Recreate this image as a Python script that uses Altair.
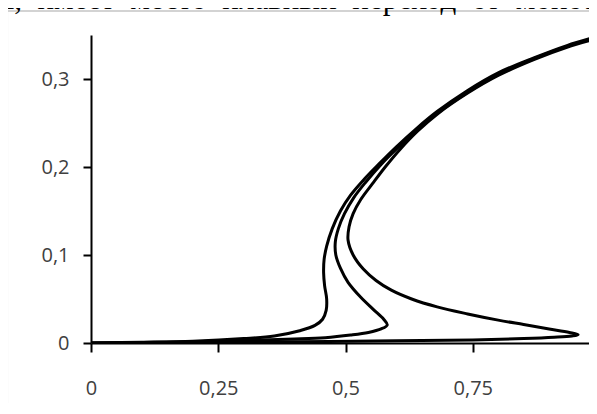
import altair as alt
import pandas as pd

# ---- data ----
c1_x = [0.0, 0.1, 0.2, 0.3, 0.36, 0.41, 0.44, 0.455, 0.462, 0.463, 0.459, 0.457, 0.458, 0.463,
        0.474, 0.49, 0.51, 0.535, 0.565, 0.6, 0.64, 0.68, 0.74, 0.8, 0.87, 0.935, 1.0]
c1_y = [0.0, 0.0008, 0.002, 0.005, 0.008, 0.014, 0.02, 0.027, 0.037, 0.05, 0.065, 0.08, 0.095, 0.11,
        0.13, 0.15, 0.168, 0.185, 0.203, 0.223, 0.244, 0.263, 0.287, 0.307, 0.324, 0.338, 0.349]

c2_x = [0.0, 0.1, 0.2, 0.3, 0.4, 0.46, 0.51, 0.545, 0.57, 0.582, 0.575, 0.555, 0.53, 0.505, 0.49,
        0.481, 0.48, 0.486, 0.498, 0.516, 0.54, 0.57, 0.603, 0.64, 0.68, 0.74, 0.8, 0.87, 0.935, 1.0]
c2_y = [0.0, 0.0005, 0.0015, 0.003, 0.0045, 0.006, 0.009, 0.012, 0.016, 0.0205, 0.027, 0.038, 0.052,
        0.069, 0.085, 0.1, 0.115, 0.13, 0.147, 0.165, 0.183, 0.203, 0.222, 0.242, 0.261, 0.285, 0.305,
        0.323, 0.337, 0.348]

c3_x = [0.0, 0.2, 0.4, 0.6, 0.75, 0.85, 0.91, 0.945, 0.957, 0.94, 0.9, 0.85, 0.8, 0.74, 0.68, 0.63,
        0.59, 0.56, 0.535, 0.515, 0.505, 0.507, 0.515, 0.53, 0.553, 0.578, 0.607, 0.642, 0.68, 0.74,
        0.8, 0.87, 0.935, 1.0]
c3_y = [0.0, 0.0008, 0.0015, 0.0025, 0.0035, 0.005, 0.0065, 0.008, 0.0095, 0.012, 0.016, 0.021, 0.026,
        0.033, 0.041, 0.05, 0.06, 0.071, 0.084, 0.1, 0.117, 0.132, 0.147, 0.163, 0.181, 0.2, 0.22,
        0.241, 0.26, 0.284, 0.304, 0.322, 0.336, 0.347]

x_ticks = [0, 0.25, 0.5, 0.75, 1]
y_ticks = [0, 0.1, 0.2, 0.3]
header_words = ["я,", "имеет", "место", "плавный", "переход", "от", "моното"]

rows = []
for name, xs, ys in (("c1", c1_x, c1_y), ("c2", c2_x, c2_y), ("c3", c3_x, c3_y)):
    for i, (xv, yv) in enumerate(zip(xs, ys)):
        rows.append({"curve": name, "x": xv, "y": yv, "i": i})
df = pd.DataFrame(rows)

W, H = 509, 308
PL, PT = 83, 27

lab_expr = "replace(toString(datum.value), '.', ',')"

lines = alt.Chart(df).mark_line(
    color="black", strokeWidth=3, interpolate="catmull-rom", clip=True
).encode(
    x=alt.X("x:Q", scale=alt.Scale(domain=[0, 1], nice=False, zero=False),
            axis=alt.Axis(values=x_ticks, title=None, grid=False, domainColor="black",
                          domainWidth=2, tickColor="black", tickWidth=2, tickSize=9,
                          labelFont="Open Sans", labelFontSize=20, labelColor="#404040",
                          labelPadding=26, labelExpr=lab_expr, labelFlush=False,
                          labelOverlap=False)),
    y=alt.Y("y:Q", scale=alt.Scale(domain=[0, 0.35], nice=False, zero=False),
            axis=alt.Axis(values=y_ticks, title=None, grid=False, domainColor="black",
                          domainWidth=2, tickColor="black", tickWidth=2, tickSize=8,
                          labelFont="Open Sans", labelFontSize=20, labelColor="#404040",
                          labelPadding=14, labelExpr=lab_expr, labelOverlap=False)),
    detail="curve:N",
    order="i:Q",
)

frame_top = alt.Chart(pd.DataFrame({"a": [0]})).mark_rule(color="#c4c4c4", strokeWidth=1.5).encode(
    x=alt.value(-PL - 0.7), x2=alt.value(W + 20), y=alt.value(-PT + 3)
)
frame_left = alt.Chart(pd.DataFrame({"a": [0]})).mark_rule(color="#c4c4c4", strokeWidth=1.5).encode(
    x=alt.value(-PL - 0.7), y=alt.value(-PT + 3), y2=alt.value(H + 120)
)
header = alt.Chart(pd.DataFrame({"t": ["\u00a0 ".join(header_words)]})).mark_text(
    font="Liberation Serif", fontSize=31, align="left", baseline="alphabetic", color="black"
).encode(x=alt.value(-PL - 8), y=alt.value(-PT + 1), text="t:N")

chart = alt.layer(frame_top, frame_left, header, lines).properties(
    width=W, height=H,
    autosize=alt.AutoSizeParams(type="none"),
    padding={"left": PL, "top": PT, "right": -11, "bottom": 60},
).configure_view(stroke=None)

chart.save("out.html", embed_options={"renderer": "svg", "actions": False})
